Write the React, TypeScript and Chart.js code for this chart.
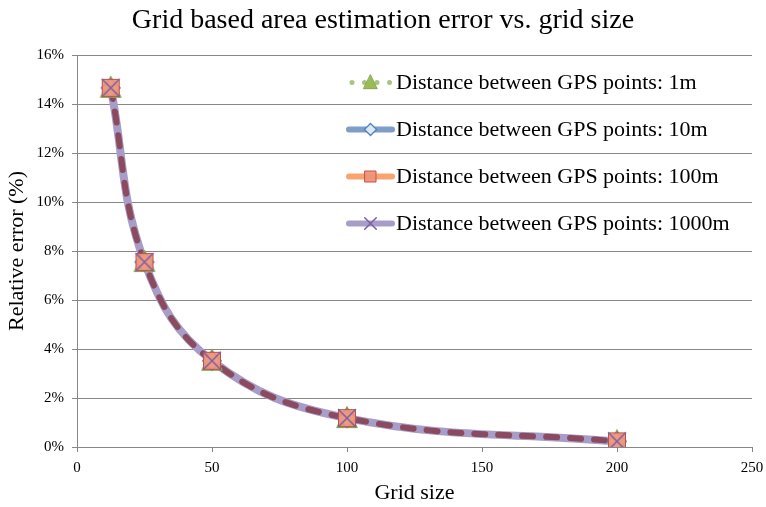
import React, { useEffect, useRef } from "react";
import { Chart, registerables } from "chart.js";

Chart.register(...registerables);

// ---------- data ----------
const gridSizes = [12.5, 25, 50, 100, 200];
const err1m = [14.66, 7.55, 3.52, 1.18, 0.23];
const err10m = [14.66, 7.55, 3.52, 1.18, 0.23];
const err100m = [14.66, 7.55, 3.52, 1.18, 0.23];
const err1000m = [14.66, 7.55, 3.52, 1.18, 0.23];

const seriesLabels = [
  "Distance between GPS points: 1m",
  "Distance between GPS points: 10m",
  "Distance between GPS points: 100m",
  "Distance between GPS points: 1000m",
];
const titleText = "Grid based area estimation error vs. grid size";
const xTitleText = "Grid size";
const yTitleText = "Relative error (%)";
const xTickStep = 50;
const yTickStep = 2;

// ---------- styles ----------
const FONT = "'Liberation Serif', 'Times New Roman', serif";
const GRID = "#878787";
const LAVENDER = "#a89dc9";
const MAROON = "#8b4a5d";

type MarkerKind = "triangle" | "diamond" | "square" | "cross";

const seriesStyles: {
  kind: MarkerKind;
  lineColor: string;
  lineWidth: number;
  dash: number[];
  cap: CanvasLineCap;
}[] = [
  { kind: "triangle", lineColor: "#a9c47f", lineWidth: 5, dash: [0, 12.5], cap: "round" },
  { kind: "diamond", lineColor: "#7e9dc8", lineWidth: 6, dash: [], cap: "round" },
  { kind: "square", lineColor: "#f9a46f", lineWidth: 6, dash: [], cap: "round" },
  { kind: "cross", lineColor: LAVENDER, lineWidth: 6, dash: [], cap: "round" },
];

function drawMarker(ctx: CanvasRenderingContext2D, kind: MarkerKind, cx: number, cy: number, s: number) {
  ctx.save();
  ctx.setLineDash([]);
  if (kind === "triangle") {
    ctx.beginPath();
    ctx.moveTo(cx, cy - 1.38 * s);
    ctx.lineTo(cx + 1.22 * s, cy + 1.12 * s);
    ctx.lineTo(cx - 1.22 * s, cy + 1.12 * s);
    ctx.closePath();
    ctx.fillStyle = "#9bbb59";
    ctx.fill();
    ctx.strokeStyle = "#86a845";
    ctx.lineWidth = 1;
    ctx.stroke();
  } else if (kind === "diamond") {
    const r = 1.1 * s;
    ctx.beginPath();
    ctx.moveTo(cx, cy - r);
    ctx.lineTo(cx + r, cy);
    ctx.lineTo(cx, cy + r);
    ctx.lineTo(cx - r, cy);
    ctx.closePath();
    ctx.fillStyle = "#dce8f6";
    ctx.fill();
    ctx.strokeStyle = "#4f81bd";
    ctx.lineWidth = 1.3;
    ctx.stroke();
  } else if (kind === "square") {
    ctx.beginPath();
    ctx.rect(cx - s, cy - s, 2 * s, 2 * s);
    ctx.fillStyle = "rgba(239,146,118,0.92)";
    ctx.fill();
    ctx.strokeStyle = "#c0504d";
    ctx.lineWidth = 1;
    ctx.stroke();
  } else {
    const r = 1.05 * s;
    ctx.beginPath();
    ctx.moveTo(cx - r, cy - r);
    ctx.lineTo(cx + r, cy + r);
    ctx.moveTo(cx + r, cy - r);
    ctx.lineTo(cx - r, cy + r);
    ctx.strokeStyle = "#7b5fa3";
    ctx.lineWidth = 1.5;
    ctx.stroke();
  }
  ctx.restore();
}

function makeMarkerCanvas(kind: MarkerKind, s: number): HTMLCanvasElement {
  const size = Math.ceil(3 * s) + 4;
  const c = document.createElement("canvas");
  c.width = size;
  c.height = size;
  const ctx = c.getContext("2d")!;
  drawMarker(ctx, kind, size / 2, size / 2, s);
  return c;
}

const legendPlugin = {
  id: "customLegend",
  afterDraw(chart: any) {
    const { ctx, chartArea } = chart;
    const lineX0 = chartArea.right - 403;
    const lineX1 = chartArea.right - 360;
    const textX = chartArea.right - 356;
    ctx.save();
    seriesLabels.forEach((label, i) => {
      const st = seriesStyles[i];
      const y = chartArea.top + 27.5 + i * 47;
      ctx.beginPath();
      ctx.setLineDash(st.dash);
      ctx.lineCap = st.cap;
      ctx.strokeStyle = st.lineColor;
      ctx.lineWidth = st.lineWidth;
      ctx.moveTo(lineX0 + (st.dash.length ? 3 : 0), y);
      ctx.lineTo(lineX1, y);
      ctx.stroke();
      ctx.setLineDash([]);
      drawMarker(ctx, st.kind, (lineX0 + lineX1) / 2, y, 5.5);
      ctx.fillStyle = "#000";
      ctx.font = `22px ${FONT}`;
      ctx.textBaseline = "middle";
      ctx.textAlign = "left";
      ctx.fillText(label, textX, y + 1);
    });
    ctx.restore();
  },
};

function toPoints(ys: number[]) {
  return gridSizes.map((x, i) => ({ x, y: ys[i] }));
}

export default function App() {
  const ref = useRef<HTMLCanvasElement | null>(null);

  useEffect(() => {
    if (!ref.current) return;
    const m = 8.5;
    const lineBase = {
      pointRadius: 0,
      tension: 0.4,
      fill: false,
      borderJoinStyle: "round" as const,
    };
    const markerBase = {
      showLine: false,
      pointRadius: 10,
    };
    const chart = new Chart(ref.current, {
      type: "line",
      data: {
        datasets: [
          // markers (on top)
          { ...markerBase, label: seriesLabels[3], data: toPoints(err1000m), pointStyle: makeMarkerCanvas("cross", m), order: 0 },
          { ...markerBase, label: seriesLabels[2], data: toPoints(err100m), pointStyle: makeMarkerCanvas("square", m), order: 1 },
          { ...markerBase, label: seriesLabels[1], data: toPoints(err10m), pointStyle: makeMarkerCanvas("diamond", m), order: 2 },
          { ...markerBase, label: seriesLabels[0], data: toPoints(err1m), pointStyle: makeMarkerCanvas("triangle", m), order: 3 },
          // lines
          { ...lineBase, label: seriesLabels[3] + " (dash)", data: toPoints(err1000m), borderColor: MAROON, borderWidth: 6, borderDash: [11, 13], borderCapStyle: "round", order: 4 },
          { ...lineBase, label: seriesLabels[3] + " (line)", data: toPoints(err1000m), borderColor: LAVENDER, borderWidth: 8, order: 5 },
          { ...lineBase, label: seriesLabels[2] + " (line)", data: toPoints(err100m), borderColor: seriesStyles[2].lineColor, borderWidth: 6, order: 6 },
          { ...lineBase, label: seriesLabels[1] + " (line)", data: toPoints(err10m), borderColor: seriesStyles[1].lineColor, borderWidth: 6, order: 7 },
          { ...lineBase, label: seriesLabels[0] + " (line)", data: toPoints(err1m), borderColor: seriesStyles[0].lineColor, borderWidth: 5, borderDash: [0, 12], borderCapStyle: "round", order: 8 },
        ] as any,
      },
      options: {
        responsive: false,
        animation: false,
        devicePixelRatio: 1,
        layout: { padding: { left: 0, right: 0, top: 0, bottom: 0 } },
        plugins: {
          legend: { display: false },
          tooltip: { enabled: false },
          title: {
            display: true,
            text: titleText,
            color: "#000",
            font: { family: FONT, size: 28, weight: "normal" },
            padding: { top: 4, bottom: 17.4 },
          },
        },
        scales: {
          x: {
            type: "linear",
            min: 0,
            max: 250,
            ticks: { stepSize: xTickStep, color: "#000", font: { family: FONT, size: 15 }, padding: 7 },
            grid: { display: true, drawOnChartArea: false, drawTicks: true, tickLength: 5, color: GRID },
            border: { display: true, color: GRID },
            title: { display: true, text: xTitleText, color: "#000", font: { family: FONT, size: 22 }, padding: { top: 2, bottom: 1 } },
            afterFit: (s: any) => {
              s.height = 60;
              s.paddingRight = 14;
            },
          },
          y: {
            type: "linear",
            min: 0,
            max: 16,
            ticks: {
              stepSize: yTickStep,
              color: "#000",
              font: { family: FONT, size: 15 },
              padding: 8,
              callback: (v: any) => `${v}%`,
            },
            grid: { display: true, drawTicks: true, tickLength: 5, color: GRID },
            border: { display: true, color: GRID },
            title: { display: true, text: yTitleText, color: "#000", font: { family: FONT, size: 22 }, padding: { top: 4, bottom: 4 } },
            afterFit: (s: any) => {
              s.width = 77;
            },
          },
        },
      } as any,
      plugins: [legendPlugin],
    });
    return () => chart.destroy();
  }, []);

  return (
    <div style={{ position: "absolute", left: 0, top: 0, width: 766, height: 507, background: "#fff" }}>
      <canvas ref={ref} width={766} height={507} style={{ width: 766, height: 507, display: "block" }} />
    </div>
  );
}
